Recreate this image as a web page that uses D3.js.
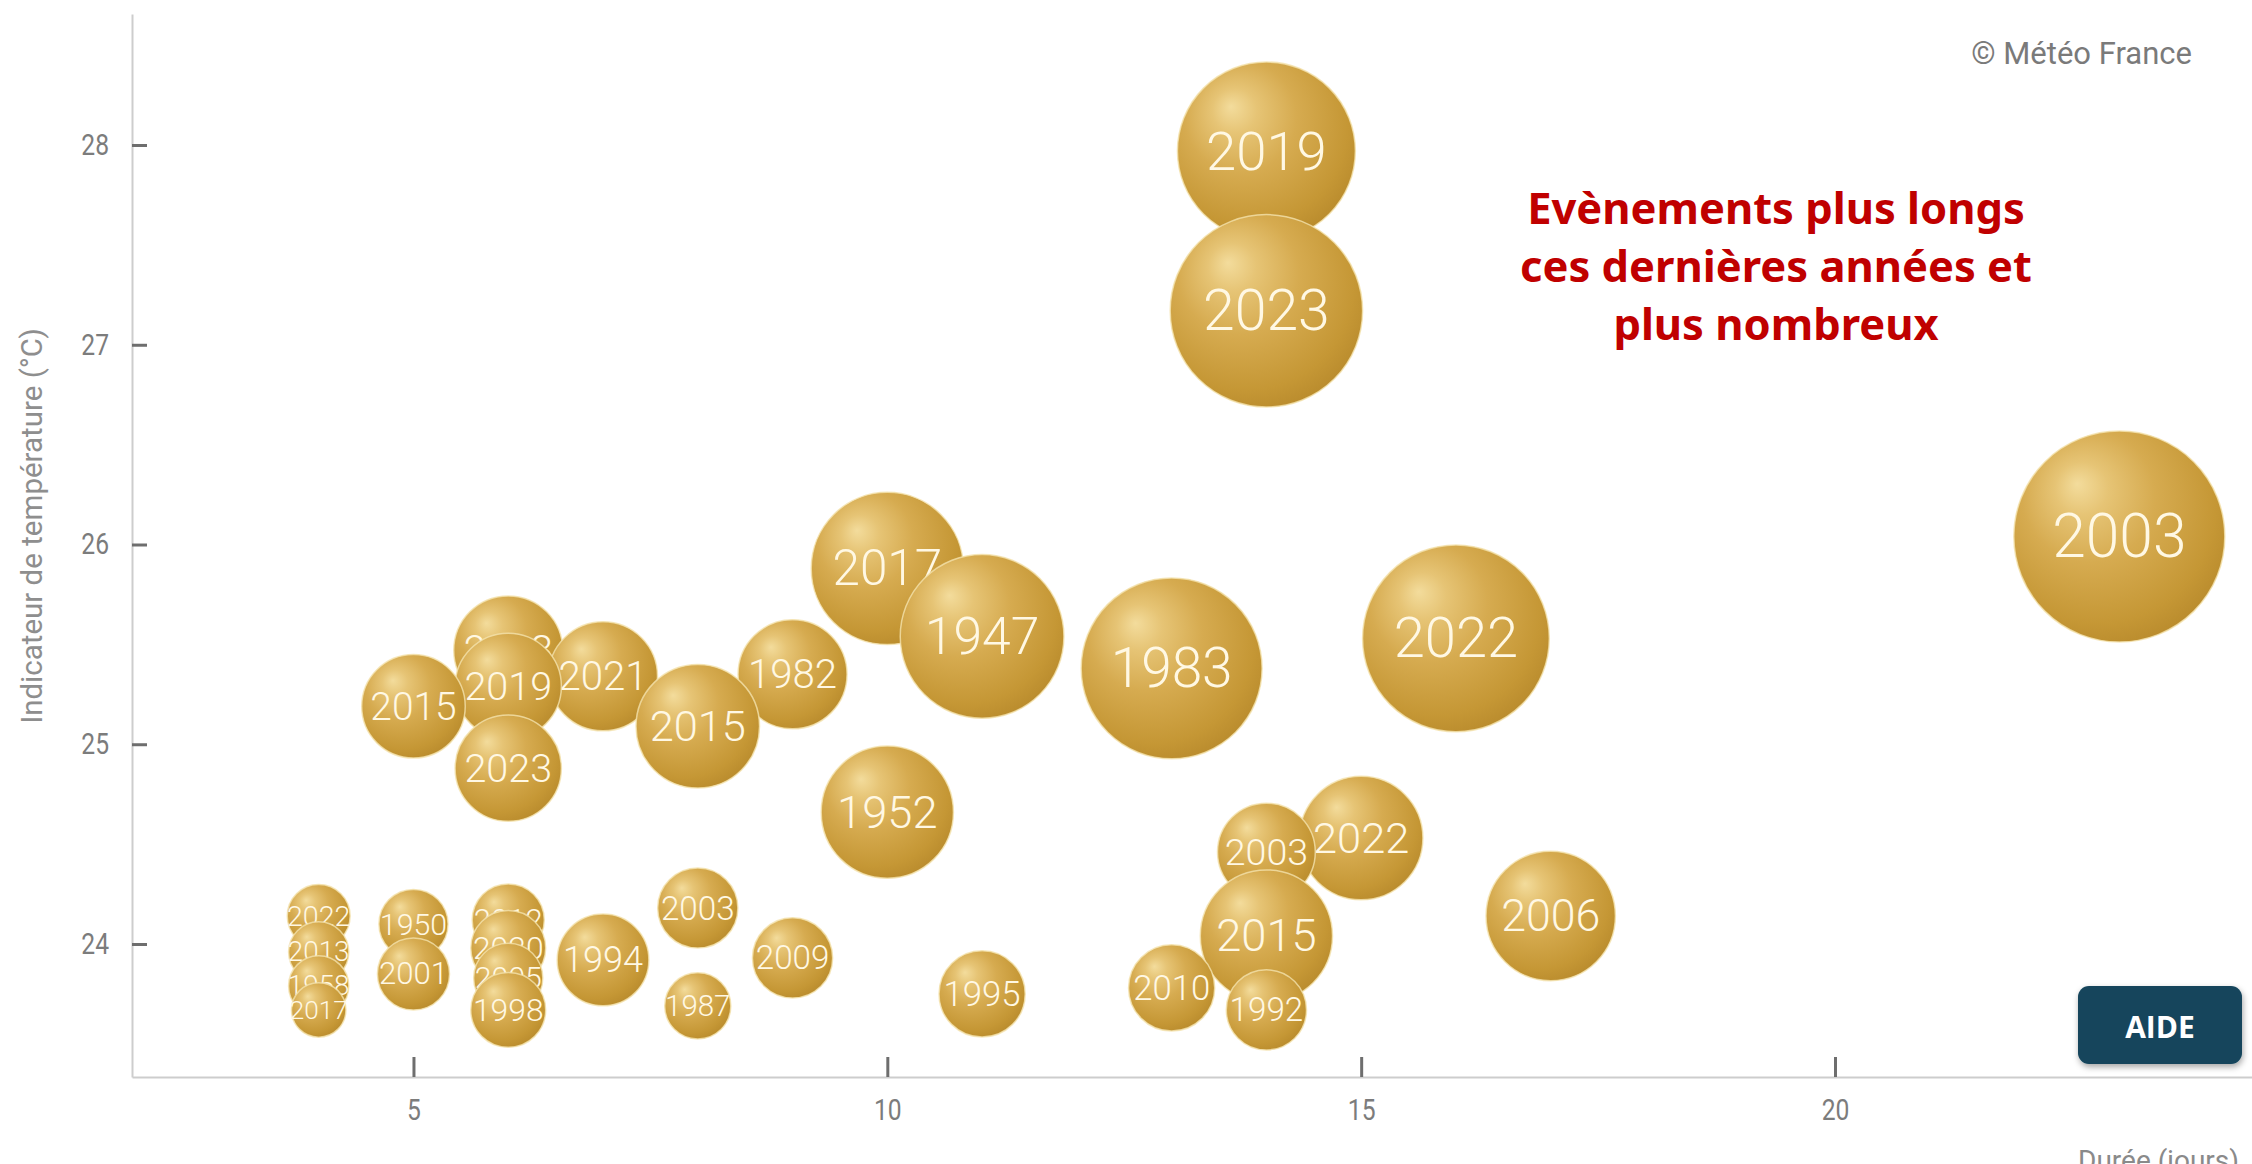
<!DOCTYPE html>
<html lang="fr">
<head>
<meta charset="utf-8">
<title>Vagues de chaleur – durée et indicateur thermique</title>
<script src="https://cdn.jsdelivr.net/npm/d3@7"></script>
<style>
  html, body { margin: 0; padding: 0; background: #ffffff; }
  svg { display: block; }
</style>
</head>
<body>
<svg id="chart" width="2252" height="1164"></svg>
<script>
// Vagues de chaleur en France : durée (jours), indicateur thermique (°C), sévérité (taille des bulles)
const annees = ["2019","2023","2003","2022","1983","1947","2017","1952","1982","2015",
                "2021","2018","2019","2023","2015","2022","2013","1958","2017","1950",
                "2001","2012","2020","2005","1998","1994","2003","1987","2009","1995",
                "2010","2003","2015","1992","2022","2006"];
const durees = [14,14,23,16,13,11,10,10,9,8,
                7,6,6,6,5,4,4,4,4,5,
                5,6,6,6,6,7,8,8,9,11,
                13,14,14,14,15,17];
const temperatures = [27.97,27.17,26.04,25.53,25.38,25.54,25.88,24.66,25.35,25.09,
                      25.34,25.47,25.29,24.88,25.19,24.14,23.96,23.79,23.67,24.10,
                      23.85,24.12,23.98,23.83,23.67,23.92,24.18,23.69,23.93,23.75,
                      23.78,24.46,24.04,23.67,24.53,24.14];
const severites = [38.4,44.9,54.0,42.3,39.7,32.5,28.1,21.2,14.4,18.5,
                   14.4,14.4,13.7,13.7,13.0,4.8,4.4,4.4,3.6,5.8,
                   6.3,6.3,6.8,5.8,6.8,10.2,7.8,5.3,7.8,9.0,
                   9.0,11.6,21.2,7.8,18.5,20.3];

const xTicks = [5, 10, 15, 20];
const yTicks = [24, 25, 26, 27, 28];

const titreY = "Indicateur de température (°C)";
const titreX = "Durée (jours)";
const annotation = ["Evènements plus longs", "ces dernières années et", "plus nombreux"];
const credit = "© Météo France";
const bouton = "AIDE";

const svg = d3.select("#chart");

// Scales
const x = d3.scaleLinear().domain([2.03, 25]).range([132, 132 + (25 - 2.03) * 94.77]);
const y = d3.scaleLinear().domain([23.334, 28.656]).range([1077, 14]);
const r = d3.scaleSqrt().domain([0, 54]).range([0, 105.5]);
const labelSize = d3.scalePow().exponent(0.62).domain([0, 105.5]).range([0, 60.5]);

// Gradients and filters
const defs = svg.append("defs");
const grad = defs.append("radialGradient")
  .attr("id", "bulle")
  .attr("cx", 0.42).attr("cy", 0.38).attr("r", 0.7)
  .attr("fx", 0.3).attr("fy", 0.25);
[
  [0.00, "#f3dc9c"],
  [0.18, "#e6c475"],
  [0.45, "#d6ab50"],
  [0.80, "#c59735"],
  [1.00, "#b5872a"]
].forEach(([o, c]) => grad.append("stop").attr("offset", o).attr("stop-color", c));

const shadow = defs.append("filter").attr("id", "ombre")
  .attr("x", "-20%").attr("y", "-20%").attr("width", "140%").attr("height", "150%");
shadow.append("feDropShadow")
  .attr("dx", 1).attr("dy", 3).attr("stdDeviation", 3)
  .attr("flood-color", "#000").attr("flood-opacity", 0.35);

// Y axis (ticks pointing into the plot, labels on the left)
const yAxis = d3.axisLeft(y)
  .tickValues(yTicks)
  .tickSizeInner(-15).tickSizeOuter(0)
  .tickPadding(23)
  .tickFormat(d3.format("d"));
const gy = svg.append("g")
  .attr("transform", `translate(${x.range()[0]},0)`)
  .call(yAxis);
gy.select(".domain").attr("stroke", "#cdcdcd").attr("stroke-width", 2);
gy.selectAll(".tick line").attr("stroke", "#6e6e6e").attr("stroke-width", 3);
gy.selectAll(".tick text")
  .attr("x", -23 / 0.85)
  .attr("transform", "scale(0.85,1)")
  .attr("fill", "#7c7c7c")
  .attr("font-family", "Roboto, 'Noto Sans', sans-serif")
  .attr("font-size", 29);

// X axis (ticks pointing up into the plot)
const xAxis = d3.axisBottom(x)
  .tickValues(xTicks)
  .tickSizeInner(-20).tickSizeOuter(0)
  .tickPadding(22)
  .tickFormat(d3.format("d"));
const gx = svg.append("g")
  .attr("transform", `translate(0,${y.range()[0]})`)
  .call(xAxis);
gx.select(".domain").attr("stroke", "#cdcdcd").attr("stroke-width", 2);
gx.selectAll(".tick line").attr("stroke", "#6e6e6e").attr("stroke-width", 3);
gx.selectAll(".tick text")
  .attr("transform", "scale(0.85,1)")
  .attr("fill", "#7c7c7c")
  .attr("font-family", "Roboto, 'Noto Sans', sans-serif")
  .attr("font-size", 29);

// Axis titles
svg.append("text")
  .attr("transform", "translate(32,526) rotate(-90)")
  .attr("text-anchor", "middle")
  .attr("dominant-baseline", "central")
  .attr("font-family", "Roboto, 'Noto Sans', sans-serif")
  .attr("font-size", 29.5)
  .attr("fill", "#8e8e8e")
  .text(titreY);

svg.append("text")
  .attr("x", 2078).attr("y", 1170)
  .attr("font-family", "Roboto, 'Noto Sans', sans-serif")
  .attr("font-size", 28)
  .attr("fill", "#8a8a8a")
  .text(titreX);

// Bubbles, drawn from the warmest down so lower ones sit on top
const points = annees.map((a, i) => ({
  annee: a, duree: durees[i], temp: temperatures[i], sev: severites[i]
}));
points.sort((a, b) => b.temp - a.temp);

const bulles = svg.append("g").attr("class", "bulles")
  .selectAll("g").data(points).join("g")
  .attr("transform", d => `translate(${x(d.duree)},${y(d.temp)})`);

bulles.append("circle")
  .attr("r", d => r(d.sev))
  .attr("fill", "url(#bulle)")
  .attr("stroke", "#f4e2ac")
  .attr("stroke-opacity", 0.8)
  .attr("stroke-width", 1.5);

bulles.append("text")
  .attr("text-anchor", "middle")
  .attr("dominant-baseline", "central")
  .attr("font-family", "Roboto, 'Noto Sans', sans-serif")
  .attr("font-weight", 300)
  .attr("font-size", d => labelSize(r(d.sev)))
  .attr("fill", "#fff8e4")
  .text(d => d.annee);

// Annotation
const note = svg.append("text")
  .attr("text-anchor", "middle")
  .attr("font-family", "'Noto Sans', 'Open Sans', sans-serif")
  .attr("font-weight", 700)
  .attr("font-size", 43.5)
  .attr("fill", "#c00000");
annotation.forEach((line, i) => {
  note.append("tspan").attr("x", 1776).attr("y", 224 + i * 58).text(line);
});

// Credit
svg.append("text")
  .attr("x", 2192).attr("y", 64)
  .attr("text-anchor", "end")
  .attr("font-family", "Roboto, 'Noto Sans', sans-serif")
  .attr("font-size", 31)
  .attr("fill", "#7a7a7a")
  .text(credit);

// Help button
const btn = svg.append("g").attr("transform", "translate(2078,986)");
btn.append("rect")
  .attr("width", 164).attr("height", 78)
  .attr("rx", 11).attr("ry", 11)
  .attr("fill", "#14455b")
  .attr("filter", "url(#ombre)");
btn.append("text")
  .attr("x", 82).attr("y", 40)
  .attr("text-anchor", "middle")
  .attr("dominant-baseline", "central")
  .attr("font-family", "'Open Sans', 'Noto Sans', sans-serif")
  .attr("font-weight", 700)
  .attr("font-size", 30)
  .attr("fill", "#ffffff")
  .text(bouton);
</script>
</body>
</html>
